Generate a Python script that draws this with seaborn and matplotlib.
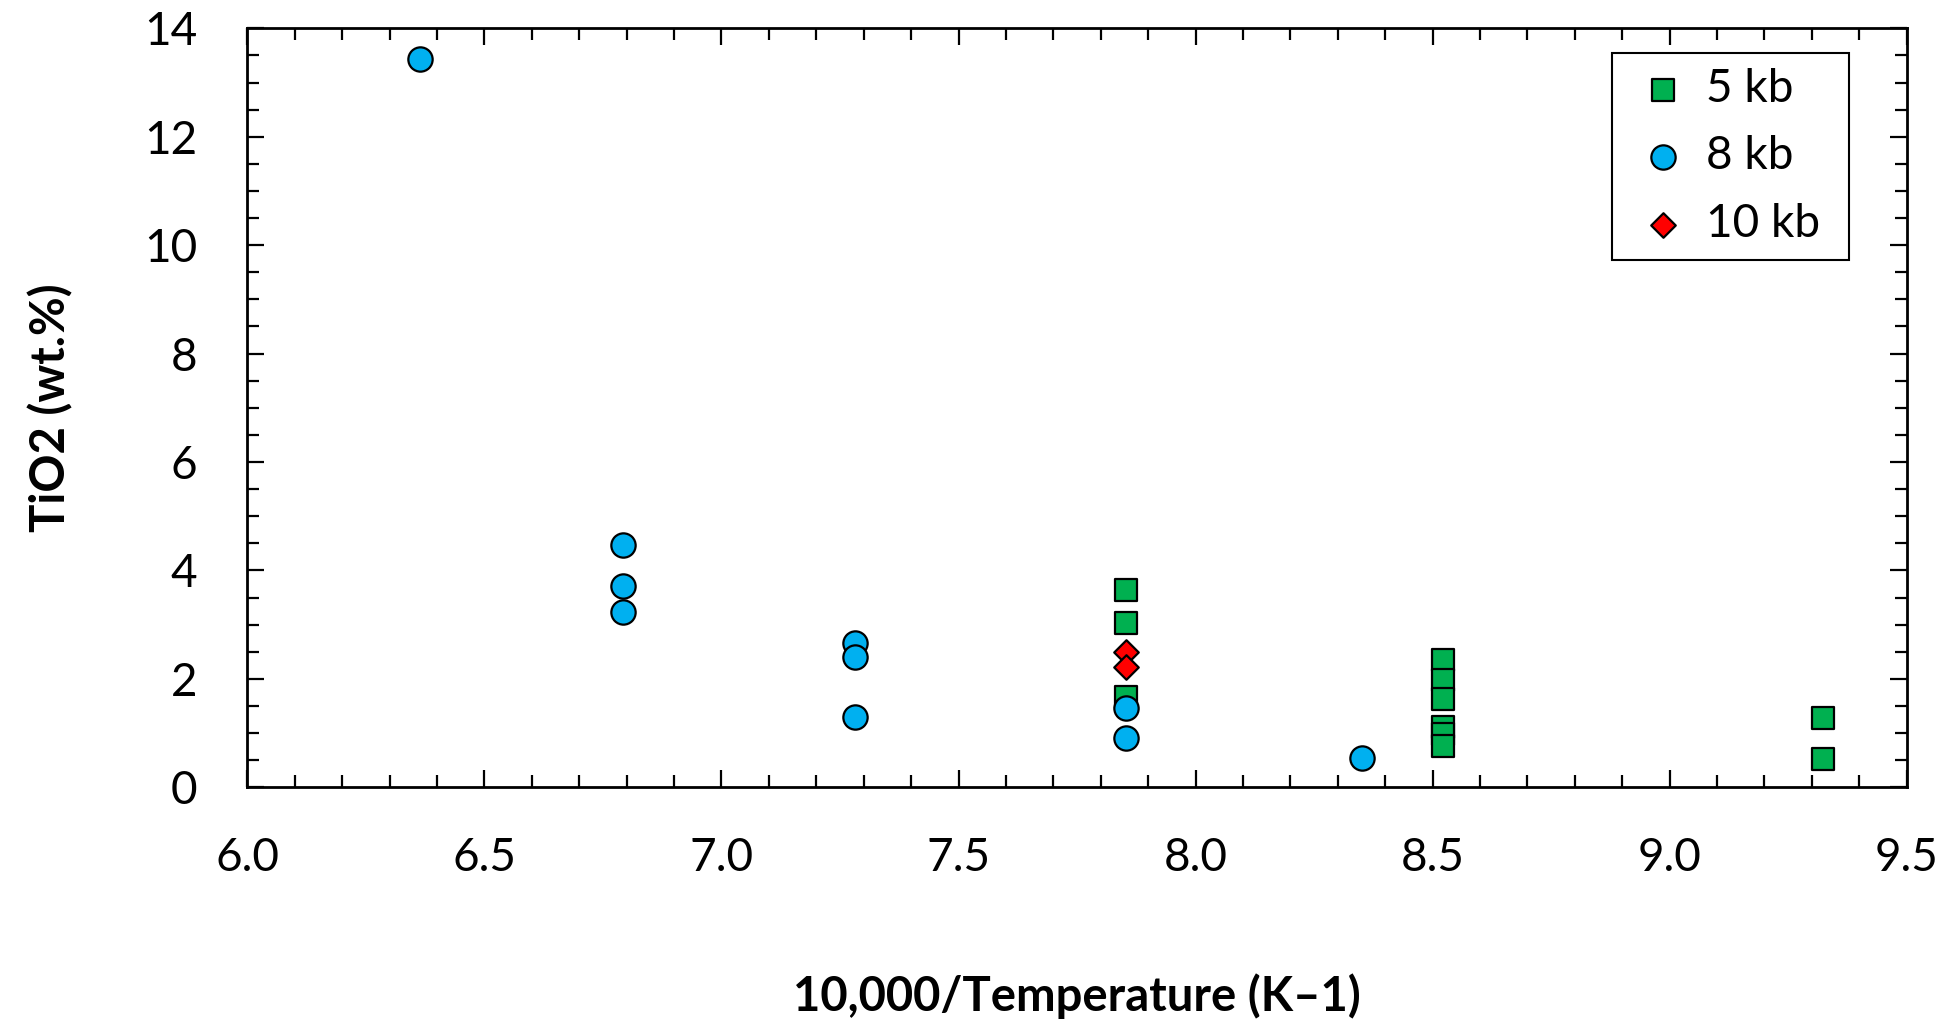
import numpy as np
import pandas as pd
import matplotlib
matplotlib.use("Agg")
import matplotlib.pyplot as plt
from matplotlib.ticker import MultipleLocator
import seaborn as sns

# ---- data ----
x_5kb = [7.853, 7.853, 7.853, 8.522, 8.522, 8.522, 8.522, 8.522, 8.522, 9.324, 9.324]
y_5kb = [3.63, 3.03, 1.66, 2.34, 1.97, 1.62, 1.11, 0.99, 0.76, 1.27, 0.52]

x_8kb = [6.364, 6.792, 6.792, 6.792, 7.282, 7.282, 7.282, 7.853, 7.853, 8.351]
y_8kb = [13.44, 4.47, 3.71, 3.23, 2.67, 2.41, 1.30, 1.46, 0.90, 0.535]

x_10kb = [7.853, 7.853]
y_10kb = [2.50, 2.22]

series_names = ["5 kb", "8 kb", "10 kb"]
x_ticks = [6.0, 6.5, 7.0, 7.5, 8.0, 8.5, 9.0, 9.5]
y_ticks = [0, 2, 4, 6, 8, 10, 12, 14]

df = pd.DataFrame({
    "x": x_5kb + x_8kb + x_10kb,
    "y": y_5kb + y_8kb + y_10kb,
    "P": [series_names[0]] * len(x_5kb) + [series_names[1]] * len(x_8kb) + [series_names[2]] * len(x_10kb),
})

sns.set_theme(style="ticks")
plt.rcParams["font.family"] = ["Lato", "DejaVu Sans"]

fig = plt.figure(figsize=(19.59, 10.22), dpi=100)
ax = fig.add_axes([0.1263, 0.2297, 0.8470, 0.7426])

palette = {"5 kb": "#00B050", "8 kb": "#00B0F0", "10 kb": "#FF0000"}
markers = {"5 kb": "s", "8 kb": "o", "10 kb": "D"}
sizes_pt = {"5 kb": 15.5, "8 kb": 17.5, "10 kb": 12.5}

for name in series_names:
    sub = df[df["P"] == name]
    sns.scatterplot(data=sub, x="x", y="y", color=palette[name], marker=markers[name],
                    s=sizes_pt[name] ** 2, edgecolor="black", linewidth=1.6,
                    label=name, ax=ax, zorder=3, clip_on=False)

ax.set_xlim(6.0, 9.5)
ax.set_ylim(0, 14)
ax.set_xticks(x_ticks)
ax.set_xticklabels([f"{t:.1f}" for t in x_ticks])
ax.set_yticks(y_ticks)
ax.set_yticklabels([str(t) for t in y_ticks])
ax.xaxis.set_minor_locator(MultipleLocator(0.1))
ax.yaxis.set_minor_locator(MultipleLocator(0.5))

for s in ax.spines.values():
    s.set_visible(True)
    s.set_linewidth(2.0)
    s.set_color("black")

ax.tick_params(which="both", direction="in", top=True, right=True, colors="black")
ax.tick_params(which="major", length=12, width=1.6, labelsize=33, pad=36)
ax.tick_params(which="minor", length=8.5, width=1.6)

ax.set_xlabel("10,000/Temperature (K\u20131)", fontsize=34, fontweight="bold", color="black")
ax.set_ylabel("TiO2 (wt.%)", fontsize=34, fontweight="bold", color="black")
ax.xaxis.set_label_coords(0.5, -0.245)
ax.yaxis.set_label_coords(-0.105, 0.5)

leg = ax.legend(loc="upper right", bbox_to_anchor=(0.8224, 0.6974, 0.1429, 0.2701),
                mode="expand", borderaxespad=0,
                fontsize=33, frameon=True, fancybox=False, handlelength=1.58,
                handletextpad=0.15, borderpad=0.324, labelspacing=0.56, markerscale=1.0)
leg.get_frame().set_edgecolor("black")
leg.get_frame().set_linewidth(1.5)
leg.get_frame().set_alpha(1)
for h in leg.legend_handles:
    h.set_edgecolor("black")
for t in leg.get_texts():
    t.set_color("black")

fig.savefig("out.png", dpi=100, facecolor="white")
